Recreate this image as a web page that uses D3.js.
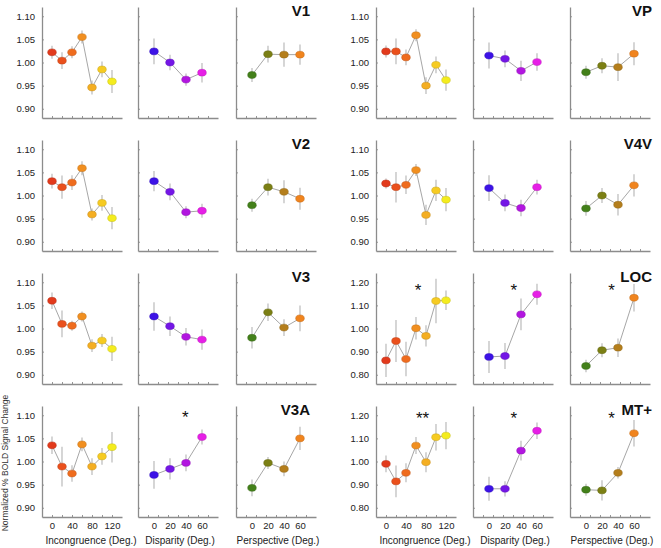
<!DOCTYPE html>
<html>
<head>
<meta charset="utf-8">
<script src="https://cdn.jsdelivr.net/npm/d3@7"></script>
<style>
  body { margin: 0; background: #fff; }
  svg { display: block; font-family: 'Liberation Sans', Arial, sans-serif; }
</style>
</head>
<body>
<div id="chart-area"></div>
<script>
// regions, in drawing order: left column top to bottom, then right column
const regions = ['V1', 'V2', 'V3', 'V3A', 'VP', 'V4V', 'LOC', 'MT+'];
const wideRegions = ['LOC', 'MT+']; // these use the 0.80 - 1.20 y axis
const conditions = ['Incongruence (Deg.)', 'Disparity (Deg.)', 'Perspective (Deg.)'];

const incongruenceDeg = [0, 20, 40, 60, 80, 100, 120];
const disparityDeg = [0, 20, 40, 60];
const perspectiveDeg = [0, 20, 40, 60];
const incongruenceTickLabels = [0, 40, 80, 120];
const angleTickLabels = [0, 20, 40, 60];
const yTicksNarrow = [0.9, 0.95, 1.0, 1.05, 1.1];
const yTicksWide = [0.8, 0.9, 1.0, 1.1, 1.2];

// normalized % BOLD signal change, one row per region (same order as regions)
const incongruenceMean = [
  [1.022, 1.004, 1.022, 1.055, 0.946, 0.985, 0.959],
  [1.031, 1.018, 1.028, 1.059, 0.959, 0.984, 0.951],
  [1.060, 1.010, 1.006, 1.026, 0.963, 0.974, 0.956],
  [1.035, 0.989, 0.974, 1.037, 0.989, 1.011, 1.031],
  [1.024, 1.024, 1.011, 1.059, 0.950, 0.995, 0.962],
  [1.026, 1.018, 1.023, 1.055, 0.958, 1.011, 0.991],
  [0.862, 0.946, 0.868, 1.001, 0.968, 1.119, 1.122],
  [0.990, 0.914, 0.951, 1.069, 0.997, 1.105, 1.112],
];
const incongruenceErr = [
  [0.014, 0.018, 0.013, 0.014, 0.015, 0.017, 0.025],
  [0.016, 0.025, 0.016, 0.015, 0.013, 0.017, 0.024],
  [0.018, 0.029, 0.011, 0.011, 0.014, 0.014, 0.026],
  [0.019, 0.043, 0.018, 0.015, 0.018, 0.018, 0.033],
  [0.013, 0.028, 0.017, 0.013, 0.018, 0.018, 0.023],
  [0.011, 0.033, 0.020, 0.013, 0.022, 0.023, 0.025],
  [0.072, 0.091, 0.075, 0.049, 0.046, 0.096, 0.042],
  [0.036, 0.069, 0.041, 0.037, 0.043, 0.057, 0.059],
];
const disparityMean = [
  [1.024, 1.000, 0.963, 0.978],
  [1.031, 1.008, 0.964, 0.967],
  [1.026, 1.005, 0.982, 0.976],
  [0.971, 0.984, 0.997, 1.053],
  [1.015, 1.008, 0.982, 1.001],
  [1.016, 0.984, 0.973, 1.018],
  [0.877, 0.881, 1.061, 1.148],
  [0.882, 0.882, 1.047, 1.133],
];
const disparityErr = [
  [0.028, 0.017, 0.013, 0.021],
  [0.022, 0.018, 0.013, 0.015],
  [0.031, 0.021, 0.019, 0.022],
  [0.030, 0.023, 0.018, 0.016],
  [0.028, 0.018, 0.022, 0.019],
  [0.028, 0.018, 0.018, 0.016],
  [0.069, 0.056, 0.069, 0.045],
  [0.052, 0.033, 0.043, 0.036],
];
const perspectiveMean = [
  [0.973, 1.018, 1.017, 1.017],
  [0.979, 1.018, 1.008, 0.993],
  [0.980, 1.035, 1.002, 1.022],
  [0.943, 0.997, 0.984, 1.050],
  [0.979, 0.993, 0.990, 1.019],
  [0.972, 1.000, 0.980, 1.022],
  [0.838, 0.906, 0.917, 1.133],
  [0.878, 0.875, 0.951, 1.122],
];
const perspectiveErr = [
  [0.015, 0.018, 0.026, 0.022],
  [0.014, 0.018, 0.025, 0.024],
  [0.023, 0.019, 0.018, 0.028],
  [0.018, 0.013, 0.016, 0.025],
  [0.014, 0.016, 0.030, 0.025],
  [0.016, 0.016, 0.023, 0.024],
  [0.027, 0.030, 0.040, 0.059],
  [0.026, 0.044, 0.025, 0.057],
];

const incongruenceColors = ['#e23a1c', '#ea501c', '#ef6c1e', '#f18f20', '#f4ae22', '#f6cb22', '#f4ec1e'];
const disparityColors = ['#3c12e6', '#7416e6', '#b216e0', '#e61fe6'];
const perspectiveColors = ['#43801a', '#7b7f14', '#b47e1c', '#f0841e'];

// significance marks: region, panel index, x in degrees, y in signal units
const stars = [
  { region: 'V3A', panel: 1, deg: 39, value: 1.103, label: '*' },
  { region: 'LOC', panel: 0, deg: 64, value: 1.181, label: '*' },
  { region: 'LOC', panel: 1, deg: 31, value: 1.181, label: '*' },
  { region: 'LOC', panel: 2, deg: 32, value: 1.181, label: '*' },
  { region: 'MT+', panel: 0, deg: 73, value: 1.199, label: '**' },
  { region: 'MT+', panel: 1, deg: 31, value: 1.199, label: '*' },
  { region: 'MT+', panel: 2, deg: 32, value: 1.199, label: '*' },
];

// layout
let width = 661;
let height = 548;
let rowTop = [7, 140, 273, 406];
let plotH = 111;
let plotW = 80;
let groupX = [
  [42, 138, 236],
  [376, 473, 570],
];
let labelRight = [310, 652];

let panelData = [
  { deg: incongruenceDeg, mean: incongruenceMean, err: incongruenceErr, colors: incongruenceColors, domain: [-20, 140], ticks: incongruenceTickLabels },
  { deg: disparityDeg, mean: disparityMean, err: disparityErr, colors: disparityColors, domain: [-20, 80], ticks: angleTickLabels },
  { deg: perspectiveDeg, mean: perspectiveMean, err: perspectiveErr, colors: perspectiveColors, domain: [-20, 80], ticks: angleTickLabels },
];

let chart = d3
  .select('#chart-area')
  .append('svg')
  .attr('width', width)
  .attr('height', height);

regions.forEach((region, r) => {
  let group = Math.floor(r / 4);
  let row = r % 4;
  let top = rowTop[row];
  let wide = wideRegions.includes(region);
  let y = d3
    .scaleLinear()
    .domain(wide ? [0.76, 1.24] : [0.88, 1.12])
    .range([top + plotH, top]);

  panelData.forEach((p, k) => {
    let x0 = groupX[group][k];
    let x = d3.scaleLinear().domain(p.domain).range([x0, x0 + plotW]);
    let tickPos = d3.scaleLinear().domain([0, 8]).range([x0, x0 + plotW]);
    let g = chart.append('g');

    //x axis line with small inward ticks
    let xAxis = g
      .append('g')
      .attr('transform', `translate(0,${top + plotH})`)
      .call(d3.axisBottom(tickPos).tickValues(d3.range(1, 8)).tickSize(-2).tickSizeOuter(0).tickFormat(''));

    //y axis
    let yAxis = g
      .append('g')
      .attr('transform', `translate(${x0},0)`)
      .call(
        d3
          .axisLeft(y)
          .tickValues(wide ? yTicksWide : yTicksNarrow)
          .tickSize(-2)
          .tickSizeOuter(0)
          .tickPadding(7)
          .tickFormat(k == 0 ? d3.format('.2f') : ''),
      );

    [xAxis, yAxis].forEach((a) => {
      a.select('.domain').attr('stroke', '#8c8c8c').attr('stroke-width', 1.3);
      a.selectAll('.tick line').attr('stroke', '#8a8a8a').attr('stroke-width', 0.9);
      a.selectAll('text').attr('fill', '#222').style('font-size', '9.5px').style('font-family', 'Liberation Sans, Arial, sans-serif');
    });

    //tick labels and titles on the bottom row
    if (row == 3) {
      let labels = g
        .append('g')
        .attr('transform', `translate(0,${top + plotH})`)
        .call(d3.axisBottom(x).tickValues(p.ticks).tickSize(0).tickPadding(5));
      labels.select('.domain').remove();
      labels.selectAll('text').attr('fill', '#222').style('font-size', '9.5px').style('font-family', 'Liberation Sans, Arial, sans-serif');

      g.append('text')
        .attr('x', x0 + plotW / 2 + (k == 0 ? 9 : 2))
        .attr('y', 543.5)
        .attr('text-anchor', 'middle')
        .style('font-size', '10px')
        .attr('fill', '#222')
        .text(conditions[k]);
    }

    let pts = p.deg.map((d, i) => ({ deg: d, mean: p.mean[r][i], err: p.err[r][i], color: p.colors[i] }));

    //error bars
    g.selectAll('.err')
      .data(pts)
      .enter()
      .append('line')
      .attr('x1', (d) => x(d.deg))
      .attr('x2', (d) => x(d.deg))
      .attr('y1', (d) => y(d.mean - d.err))
      .attr('y2', (d) => y(d.mean + d.err))
      .attr('stroke', '#c4c4c4')
      .attr('stroke-width', 1.4);

    //connecting line
    g.append('path')
      .datum(pts)
      .attr('fill', 'none')
      .attr('stroke', '#8f8f8f')
      .attr('stroke-width', 0.8)
      .attr(
        'd',
        d3
          .line()
          .x((d) => x(d.deg))
          .y((d) => y(d.mean)),
      );

    //markers
    g.selectAll('ellipse')
      .data(pts)
      .enter()
      .append('ellipse')
      .attr('cx', (d) => x(d.deg))
      .attr('cy', (d) => y(d.mean))
      .attr('rx', 4.3)
      .attr('ry', 3.4)
      .attr('fill', (d) => d.color)
      .attr('stroke', (d) => d3.color(d.color).darker(0.6))
      .attr('stroke-width', 0.5);

    //significance
    stars
      .filter((s) => s.region == region && s.panel == k)
      .forEach((s) => {
        g.append('text')
          .attr('x', x(s.deg))
          .attr('y', y(s.value) + 9)
          .attr('text-anchor', 'middle')
          .style('font-size', '17px')
          .attr('fill', '#111')
          .text(s.label);
      });
  });

  //region name
  chart
    .append('text')
    .attr('x', labelRight[group])
    .attr('y', top + 9)
    .attr('text-anchor', 'end')
    .style('font-size', '15px')
    .style('font-weight', 'bold')
    .attr('fill', '#111')
    .text(region);
});

//shared y label
chart
  .append('text')
  .attr('transform', 'translate(7.5,463) rotate(-90)')
  .attr('text-anchor', 'middle')
  .style('font-size', '8.5px')
  .attr('fill', '#333')
  .text('Normalized % BOLD Signal Change');
</script>
</body>
</html>
